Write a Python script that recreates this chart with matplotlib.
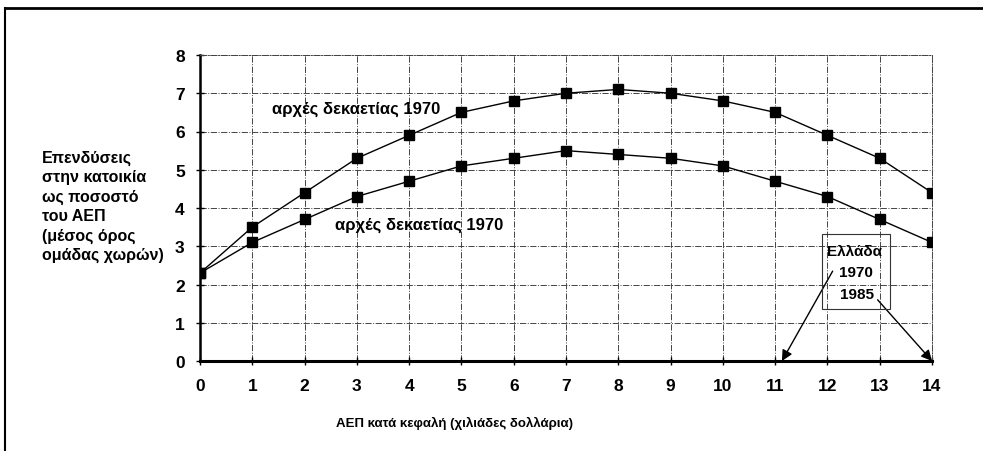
import matplotlib.pyplot as plt
from matplotlib.patches import Rectangle

gdp = [0, 1, 2, 3, 4, 5, 6, 7, 8, 9, 10, 11, 12, 13, 14]
early_1970 = [2.3, 3.5, 4.4, 5.3, 5.9, 6.5, 6.8, 7.0, 7.1, 7.0, 6.8, 6.5, 5.9, 5.3, 4.4]
early_1970_b = [2.3, 3.1, 3.7, 4.3, 4.7, 5.1, 5.3, 5.5, 5.4, 5.3, 5.1, 4.7, 4.3, 3.7, 3.1]
label_series = "αρχές δεκαετίας 1970"
y_label = "Επενδύσεις\nστην κατοικία\nως ποσοστό\nτου ΑΕΠ\n(μέσος όρος\nομάδας χωρών)"
x_label = "ΑΕΠ κατά κεφαλή (χιλιάδες δολλάρια)"

plt.rcParams['font.family'] = ['Liberation Sans', 'DejaVu Sans']

fig = plt.figure(figsize=(9.83, 4.52), dpi=100)
ax = fig.add_axes([200 / 983, 1 - 362 / 452, 732 / 983, 306 / 452])

ax.plot(gdp, early_1970, color='black', lw=1, marker='s', ms=6.5, zorder=3)
ax.plot(gdp, early_1970_b, color='black', lw=1, marker='s', ms=6.5, zorder=3)

ax.set_xlim(0, 14)
ax.set_ylim(0, 8)
ax.set_xticks(range(0, 15))
ax.set_yticks(range(0, 9))
ax.grid(True, color='#444444', lw=0.7, ls='-.')
ax.tick_params(direction='inout', length=6, width=1, labelsize=12.5)
ax.tick_params(axis='x', pad=9)
ax.tick_params(axis='y', pad=8)
for lab in ax.get_xticklabels() + ax.get_yticklabels():
    lab.set_fontweight('bold')

for side in ['top', 'right']:
    ax.spines[side].set_linestyle('-.')
    ax.spines[side].set_linewidth(0.7)
    ax.spines[side].set_color('#444444')
ax.spines['left'].set_linewidth(1.8)
ax.spines['bottom'].set_linewidth(2.2)

ax.text(1.38, 6.6, label_series, fontsize=12, fontweight='bold', va='center')
ax.text(2.58, 3.57, label_series, fontsize=12, fontweight='bold', va='center')

# Greece box and arrows
ax.add_patch(Rectangle((11.89, 1.36), 1.3, 1.96, fill=False, lw=0.8,
                       ec='#333333', zorder=4))
ax.text(12.52, 2.88, "Ελλάδα", fontsize=11, fontweight='bold', ha='center', va='center')
ax.text(12.54, 2.33, "1970", fontsize=11, fontweight='bold', ha='center', va='center')
ax.text(12.56, 1.75, "1985", fontsize=11, fontweight='bold', ha='center', va='center')
ax.annotate("", xy=(11.13, 0.0), xytext=(12.1, 2.35),
            arrowprops=dict(arrowstyle='-|>', color='black', lw=1,
                            mutation_scale=16, shrinkA=0, shrinkB=0))
ax.annotate("", xy=(14, 0.0), xytext=(12.96, 1.6),
            arrowprops=dict(arrowstyle='-|>', color='black', lw=1,
                            mutation_scale=16, shrinkA=0, shrinkB=0))

fig.text(42 / 983, 1 - 151 / 452, y_label, fontsize=11.5, fontweight='bold',
         va='top', ha='left', linespacing=1.35)
fig.text(455 / 983, 1 - 423 / 452, x_label, fontsize=9.5, fontweight='bold',
         ha='center', va='center')

# outer frame
fig.add_artist(plt.Line2D([5 / 983, 1], [1 - 9 / 452, 1 - 9 / 452],
                          transform=fig.transFigure, color='black', lw=2))
fig.add_artist(plt.Line2D([5 / 983, 5 / 983], [0, 1 - 9 / 452],
                          transform=fig.transFigure, color='black', lw=1.5))

fig.savefig('out.png', dpi=100)
